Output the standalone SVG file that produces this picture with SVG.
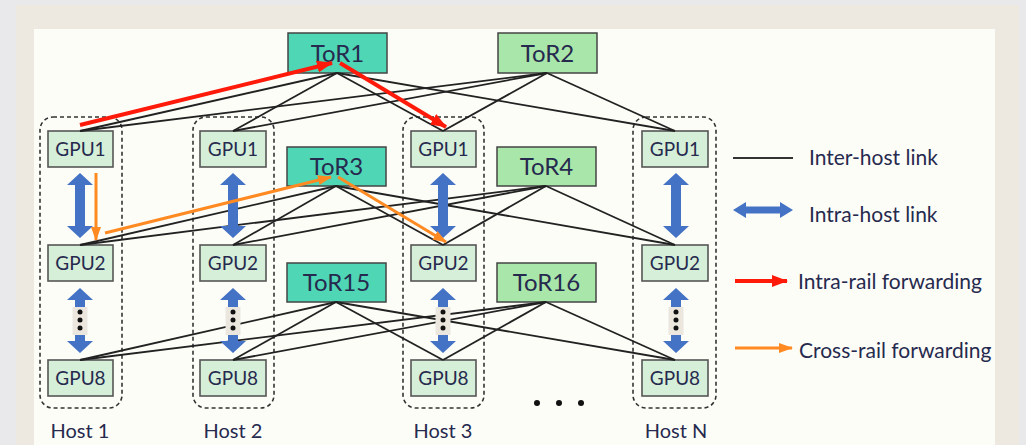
<svg xmlns="http://www.w3.org/2000/svg" width="1026" height="445" viewBox="0 0 1026 445">
<style>
.tor-a{fill:#4fd6b4;stroke:#444;stroke-width:1.5}
.tor-b{fill:#a9e6a9;stroke:#444;stroke-width:1.5}
.gpu{fill:#d6efd9;stroke:#555;stroke-width:1.6}
.host{fill:none;stroke:#333;stroke-width:1.6;stroke-dasharray:4 3}
.tt{font-family:Lato,"Liberation Sans",sans-serif;fill:#262a4e;text-anchor:middle}
.tor-t{font-size:24px}
.gpu-t{font-size:19px}
.host-t{font-size:20px}
.leg-t{font-family:Lato,"Liberation Sans",sans-serif;fill:#262a4e;font-size:21px}
.link{stroke:#222;stroke-width:1.8;fill:none}
.red{stroke:#ff1a0a;stroke-width:4;fill:none}
.org{stroke:#ff8a22;stroke-width:3;fill:none}
.blue{fill:#4472c4}
.gap{fill:#ebe7df}
.dot{fill:#111}
</style>
<defs>
<marker id="ahR" markerUnits="userSpaceOnUse" markerWidth="16" markerHeight="12" refX="15" refY="6" orient="auto"><path d="M0,0 L16,6 L0,12 Z" fill="#ff1a0a"/></marker>
<marker id="ahO" markerUnits="userSpaceOnUse" markerWidth="14" markerHeight="10" refX="13" refY="5" orient="auto"><path d="M0,0 L14,5 L0,10 Z" fill="#ff8a22"/></marker>
<path id="dblv" d="M0,0 L13,12 L5,12 L5,53 L13,53 L0,65 L-13,53 L-5,53 L-5,12 L-13,12 Z"/>
</defs>
<rect x="0" y="0" width="1026" height="445" fill="#e9e9ec"/>
<rect x="16" y="5" width="1003" height="440" fill="#ede9e0"/>
<rect x="34" y="29" width="961" height="416" fill="#fdfdf8"/>

<g id="host1"><rect class="host" x="40" y="117" width="82" height="291" rx="13"/><text class="tt host-t" x="80" y="438">Host 1</text></g>
<g id="host2"><rect class="host" x="193" y="117" width="81" height="291" rx="13"/><text class="tt host-t" x="233" y="438">Host 2</text></g>
<g id="host3"><rect class="host" x="403" y="117" width="81" height="291" rx="13"/><text class="tt host-t" x="443" y="438">Host 3</text></g>
<g id="hostN"><rect class="host" x="633" y="117" width="83" height="291" rx="13"/><text class="tt host-t" x="676" y="438">Host N</text></g>

<g id="tor1"><rect class="tor-a" x="288" y="33" width="99" height="40"/><text class="tt tor-t" x="337.5" y="62">ToR1</text></g>
<g id="tor2"><rect class="tor-b" x="498" y="33" width="99" height="40"/><text class="tt tor-t" x="547.5" y="62">ToR2</text></g>
<g id="tor3"><rect class="tor-a" x="287" y="147" width="99" height="39"/><text class="tt tor-t" x="336.5" y="175">ToR3</text></g>
<g id="tor4"><rect class="tor-b" x="497" y="147" width="99" height="39"/><text class="tt tor-t" x="546.5" y="175">ToR4</text></g>
<g id="tor15"><rect class="tor-a" x="287" y="263" width="99" height="39"/><text class="tt tor-t" x="336.5" y="291">ToR15</text></g>
<g id="tor16"><rect class="tor-b" x="497" y="263" width="99" height="39"/><text class="tt tor-t" x="546.5" y="291">ToR16</text></g>

<g id="h1-gpu1"><rect class="gpu" x="48" y="131" width="65" height="36"/><text class="tt gpu-t" x="80.5" y="156">GPU1</text></g>
<g id="h1-gpu2"><rect class="gpu" x="48" y="245" width="65" height="36"/><text class="tt gpu-t" x="80.5" y="270">GPU2</text></g>
<g id="h1-gpu8"><rect class="gpu" x="48" y="360" width="65" height="36"/><text class="tt gpu-t" x="80.5" y="385">GPU8</text></g>
<g id="h2-gpu1"><rect class="gpu" x="200" y="131" width="66" height="36"/><text class="tt gpu-t" x="233" y="156">GPU1</text></g>
<g id="h2-gpu2"><rect class="gpu" x="200" y="245" width="66" height="36"/><text class="tt gpu-t" x="233" y="270">GPU2</text></g>
<g id="h2-gpu8"><rect class="gpu" x="200" y="360" width="66" height="36"/><text class="tt gpu-t" x="233" y="385">GPU8</text></g>
<g id="h3-gpu1"><rect class="gpu" x="411" y="131" width="65" height="36"/><text class="tt gpu-t" x="443.5" y="156">GPU1</text></g>
<g id="h3-gpu2"><rect class="gpu" x="411" y="245" width="65" height="36"/><text class="tt gpu-t" x="443.5" y="270">GPU2</text></g>
<g id="h3-gpu8"><rect class="gpu" x="411" y="360" width="65" height="36"/><text class="tt gpu-t" x="443.5" y="385">GPU8</text></g>
<g id="hN-gpu1"><rect class="gpu" x="642" y="131" width="66" height="36"/><text class="tt gpu-t" x="675" y="156">GPU1</text></g>
<g id="hN-gpu2"><rect class="gpu" x="642" y="245" width="66" height="36"/><text class="tt gpu-t" x="675" y="270">GPU2</text></g>
<g id="hN-gpu8"><rect class="gpu" x="642" y="360" width="66" height="36"/><text class="tt gpu-t" x="675" y="385">GPU8</text></g>

<g id="ellipsis"><circle class="dot" cx="537" cy="403" r="3"/><circle class="dot" cx="559" cy="403" r="3"/><circle class="dot" cx="581" cy="403" r="3"/></g>

<g id="connectors">
<g id="inter-host">
<line class="link" x1="337" y1="73" x2="80" y2="131"/>
<line class="link" x1="337" y1="73" x2="233" y2="131"/>
<line class="link" x1="337" y1="73" x2="443" y2="131"/>
<line class="link" x1="337" y1="73" x2="675" y2="131"/>
<line class="link" x1="547" y1="73" x2="80" y2="131"/>
<line class="link" x1="547" y1="73" x2="233" y2="131"/>
<line class="link" x1="547" y1="73" x2="443" y2="131"/>
<line class="link" x1="547" y1="73" x2="675" y2="131"/>
<line class="link" x1="336" y1="186" x2="80" y2="245"/>
<line class="link" x1="336" y1="186" x2="233" y2="245"/>
<line class="link" x1="336" y1="186" x2="443" y2="245"/>
<line class="link" x1="336" y1="186" x2="675" y2="245"/>
<line class="link" x1="546" y1="186" x2="80" y2="245"/>
<line class="link" x1="546" y1="186" x2="233" y2="245"/>
<line class="link" x1="546" y1="186" x2="443" y2="245"/>
<line class="link" x1="546" y1="186" x2="675" y2="245"/>
<line class="link" x1="336" y1="302" x2="80" y2="360"/>
<line class="link" x1="336" y1="302" x2="233" y2="360"/>
<line class="link" x1="336" y1="302" x2="443" y2="360"/>
<line class="link" x1="336" y1="302" x2="675" y2="360"/>
<line class="link" x1="546" y1="302" x2="80" y2="360"/>
<line class="link" x1="546" y1="302" x2="233" y2="360"/>
<line class="link" x1="546" y1="302" x2="443" y2="360"/>
<line class="link" x1="546" y1="302" x2="675" y2="360"/>
</g>
<g id="intra-host">
<use href="#dblv" class="blue" transform="translate(80,173)"/>
<use href="#dblv" class="blue" transform="translate(233,173)"/>
<use href="#dblv" class="blue" transform="translate(443,173)"/>
<use href="#dblv" class="blue" transform="translate(676,173)"/>
<use href="#dblv" class="blue" transform="translate(80,288)"/>
<use href="#dblv" class="blue" transform="translate(233,288)"/>
<use href="#dblv" class="blue" transform="translate(443,288)"/>
<use href="#dblv" class="blue" transform="translate(676,288)"/>
<rect class="gap" x="72.5" y="307" width="15" height="28"/>
<rect class="gap" x="225.5" y="307" width="15" height="28"/>
<rect class="gap" x="435.5" y="307" width="15" height="28"/>
<rect class="gap" x="668.5" y="307" width="15" height="28"/>
<circle class="dot" cx="80" cy="312" r="2.5"/><circle class="dot" cx="80" cy="320" r="2.5"/><circle class="dot" cx="80" cy="328" r="2.5"/>
<circle class="dot" cx="233" cy="312" r="2.5"/><circle class="dot" cx="233" cy="320" r="2.5"/><circle class="dot" cx="233" cy="328" r="2.5"/>
<circle class="dot" cx="443" cy="312" r="2.5"/><circle class="dot" cx="443" cy="320" r="2.5"/><circle class="dot" cx="443" cy="328" r="2.5"/>
<circle class="dot" cx="676" cy="312" r="2.5"/><circle class="dot" cx="676" cy="320" r="2.5"/><circle class="dot" cx="676" cy="328" r="2.5"/>
</g>
<g id="forwarding">
<line class="red" x1="80" y1="125" x2="332" y2="63" marker-end="url(#ahR)"/>
<line class="red" x1="340" y1="63" x2="446" y2="127" marker-end="url(#ahR)"/>
<line class="org" x1="96" y1="173" x2="96" y2="240" marker-end="url(#ahO)"/>
<line class="org" x1="105" y1="233" x2="331" y2="177" marker-end="url(#ahO)"/>
<line class="org" x1="338" y1="177" x2="446" y2="242" marker-end="url(#ahO)"/>
</g>
</g>

<g id="legend">
<line x1="733" y1="158" x2="793" y2="158" stroke="#333" stroke-width="1.8"/>
<text class="leg-t" x="809" y="165">Inter-host link</text>
<path class="blue" d="M733,210 L746,202 L746,206.5 L780,206.5 L780,202 L793,210 L780,218 L780,213.5 L746,213.5 L746,218 Z"/>
<text class="leg-t" x="809" y="222">Intra-host link</text>
<line class="red" x1="735" y1="281" x2="787" y2="281" stroke-width="3.5" marker-end="url(#ahR)"/>
<text class="leg-t" x="798" y="289">Intra-rail forwarding</text>
<line class="org" x1="735" y1="348" x2="792" y2="348" marker-end="url(#ahO)"/>
<text class="leg-t" x="799" y="358">Cross-rail forwarding</text>
</g>
</svg>
